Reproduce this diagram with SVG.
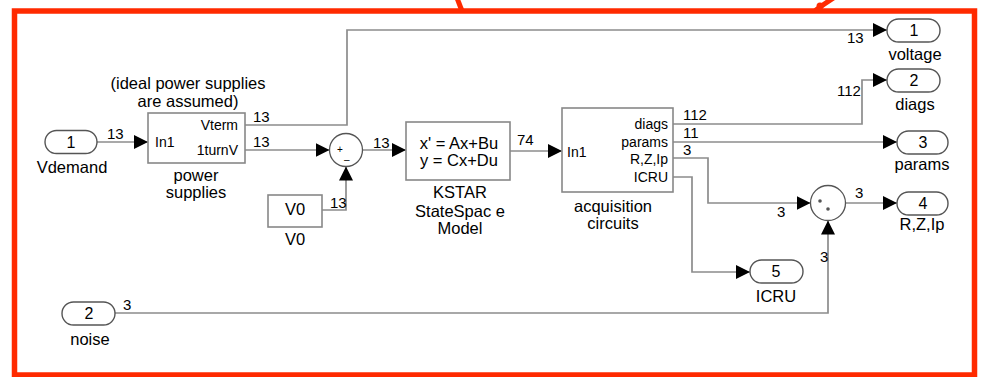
<svg xmlns="http://www.w3.org/2000/svg" width="981" height="377" viewBox="0 0 981 377">
<style>
text{font-family:"Liberation Sans",Arial,sans-serif;fill:#000}
.lbl{font-size:16.5px;text-anchor:middle}
.port{font-size:14px}
.r{text-anchor:end}
.sig{font-size:15px}
.num{font-size:16px;text-anchor:middle}
.blk{fill:#fff;stroke:#888;stroke-width:1.6}
.io{fill:#fff;stroke:#555;stroke-width:1.4}
.w{fill:none;stroke:#8c8c8c;stroke-width:1.7}
.frame{fill:none;stroke:#ff2a00;stroke-width:5.5}
</style>
<defs>
<marker id="ah" markerUnits="userSpaceOnUse" markerWidth="15" markerHeight="14" refX="14" refY="7" orient="auto">
<path d="M0,0 L14,7 L0,14 z" fill="#000"/>
</marker>
</defs>
<rect class="frame" x="14.5" y="11" width="960" height="364"/>
<path d="M457,-2 L462,11" fill="none" stroke="#ff2a00" stroke-width="5"/>
<path d="M816,10 Q824,4 835,-3" fill="none" stroke="#ff2a00" stroke-width="5" stroke-linecap="round"/>
<circle cx="820" cy="6" r="3.5" fill="#ff2a00"/>

<g id="connectors">
<path class="w" d="M97,142 H148" marker-end="url(#ah)"/>
<path class="w" d="M245,125 H347 V30 H887" marker-end="url(#ah)"/>
<path class="w" d="M245,150 H329.5" marker-end="url(#ah)"/>
<path class="w" d="M322,210 H346 V166.5" marker-end="url(#ah)"/>
<path class="w" d="M362.5,150 H406" marker-end="url(#ah)"/>
<path class="w" d="M510,151 H562" marker-end="url(#ah)"/>
<path class="w" d="M673,124 H862 V80 H887" marker-end="url(#ah)"/>
<path class="w" d="M673,142 H897" marker-end="url(#ah)"/>
<path class="w" d="M673,158 H708 V203 H810.5" marker-end="url(#ah)"/>
<path class="w" d="M673,177 H692 V272 H750" marker-end="url(#ah)"/>
<path class="w" d="M845.5,203 H897" marker-end="url(#ah)"/>
<path class="w" d="M115,313 H828 V220.5" marker-end="url(#ah)"/>
<text class="sig" x="107" y="139">13</text>
<text class="sig" x="253" y="122">13</text>
<text class="sig" x="253" y="147">13</text>
<text class="sig" x="373" y="148">13</text>
<text class="sig" x="330" y="208">13</text>
<text class="sig" x="517" y="145">74</text>
<text class="sig" x="683" y="120">112</text>
<text class="sig" x="683" y="138">11</text>
<text class="sig" x="683" y="155">3</text>
<text class="sig" x="847" y="43">13</text>
<text class="sig" x="837" y="96">112</text>
<text class="sig" x="777" y="217">3</text>
<text class="sig" x="855" y="198">3</text>
<text class="sig" x="820" y="262">3</text>
<text class="sig" x="123" y="310">3</text>
</g>

<g id="in_vdemand">
<rect class="io" x="45" y="130.5" width="52" height="23" rx="11.5"/>
<text class="num" x="71" y="148">1</text>
<text class="lbl" x="72" y="173">Vdemand</text>
</g>

<g id="power_supplies">
<text class="lbl" x="188" y="89">(ideal power supplies</text>
<text class="lbl" x="188" y="107">are assumed)</text>
<rect class="blk" x="148" y="113" width="97" height="50"/>
<text class="port" x="155" y="147">In1</text>
<text class="port r" x="238" y="130">Vterm</text>
<text class="port r" x="238" y="155">1turnV</text>
<text class="lbl" x="196" y="181">power</text>
<text class="lbl" x="196" y="198">supplies</text>
</g>

<g id="sum">
<circle cx="346" cy="150" r="16.5" fill="#fff" stroke="#555" stroke-width="1.3"/>
<text x="337" y="153" font-size="10">+</text>
<text x="344" y="163" font-size="10">–</text>
</g>

<g id="v0">
<rect class="blk" x="268" y="195" width="54" height="32"/>
<text class="lbl" x="295" y="215">V0</text>
<text class="lbl" x="295" y="245">V0</text>
</g>

<g id="kstar">
<rect class="blk" x="406" y="122" width="104" height="58"/>
<text class="lbl" x="459" y="149">x' = Ax+Bu</text>
<text class="lbl" x="459" y="166">y = Cx+Du</text>
<text class="lbl" x="460" y="198">KSTAR</text>
<text class="lbl" x="460" y="217">StateSpac e</text>
<text class="lbl" x="460" y="234">Model</text>
</g>

<g id="acquisition">
<rect class="blk" x="562" y="108" width="111" height="84"/>
<text class="port" x="567" y="157">In1</text>
<text class="port r" x="668" y="129">diags</text>
<text class="port r" x="668" y="147">params</text>
<text class="port r" x="668" y="164">R,Z,Ip</text>
<text class="port r" x="668" y="182">ICRU</text>
<text class="lbl" x="613" y="212">acquisition</text>
<text class="lbl" x="613" y="229">circuits</text>
</g>

<g id="product">
<circle cx="828" cy="203" r="17.5" fill="#fff" stroke="#555" stroke-width="1.3"/>
<circle cx="820" cy="201" r="1.8" fill="#555"/>
<circle cx="828" cy="209" r="1.8" fill="#555"/>
</g>

<g id="out_voltage">
<rect class="io" x="887" y="19" width="53" height="23" rx="11.5"/>
<text class="num" x="914" y="36">1</text>
<text class="lbl" x="915" y="60">voltage</text>
</g>

<g id="out_diags">
<rect class="io" x="887" y="69" width="53" height="23" rx="11.5"/>
<text class="num" x="914" y="86">2</text>
<text class="lbl" x="915" y="110">diags</text>
</g>

<g id="out_params">
<rect class="io" x="897" y="131" width="51" height="23" rx="11.5"/>
<text class="num" x="923" y="148">3</text>
<text class="lbl" x="922" y="170">params</text>
</g>

<g id="out_rzip">
<rect class="io" x="897" y="192" width="51" height="23" rx="11.5"/>
<text class="num" x="923" y="209">4</text>
<text class="lbl" x="922" y="230">R,Z,Ip</text>
</g>

<g id="out_icru">
<rect class="io" x="750" y="260" width="53" height="23" rx="11.5"/>
<text class="num" x="776" y="277">5</text>
<text class="lbl" x="776" y="302">ICRU</text>
</g>

<g id="in_noise">
<rect class="io" x="62" y="302" width="53" height="23" rx="11.5"/>
<text class="num" x="89" y="319">2</text>
<text class="lbl" x="90" y="345">noise</text>
</g>
</svg>
